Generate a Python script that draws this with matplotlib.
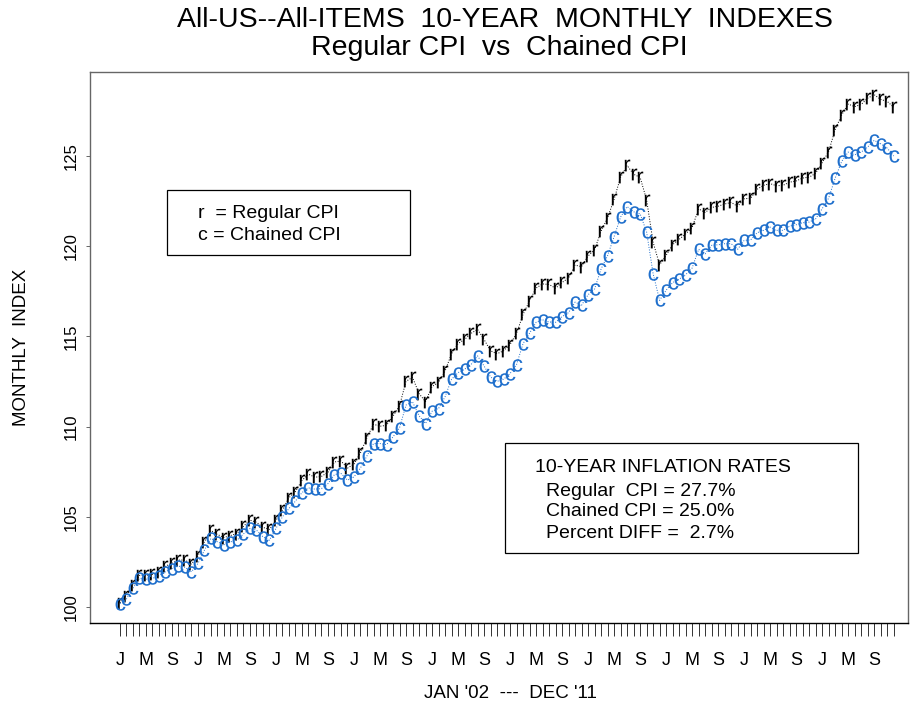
import matplotlib
matplotlib.use("Agg")
import matplotlib.pyplot as plt
from matplotlib.patches import Rectangle
import numpy as np

plt.rcParams['font.family'] = ['Liberation Sans', 'DejaVu Sans']
plt.rcParams['mathtext.fontset'] = 'custom'
plt.rcParams['mathtext.sf'] = 'Liberation Sans'
plt.rcParams['mathtext.rm'] = 'Liberation Sans'

# Monthly index, Jan 2002 .. Dec 2011 (Dec 2001 = 100)
regular = [
    100.23, 100.62, 101.19, 101.75, 101.75, 101.81, 101.92, 102.26, 102.43, 102.60, 102.60, 102.38,
    102.83, 103.62, 104.24, 104.02, 103.85, 103.96, 104.07, 104.47, 104.81, 104.70, 104.41, 104.30,
    104.81, 105.38, 106.06, 106.40, 107.02, 107.36, 107.19, 107.24, 107.47, 108.04, 108.09, 107.70,
    107.92, 108.55, 109.39, 110.13, 110.02, 110.07, 110.58, 111.15, 112.51, 112.73, 111.83, 111.38,
    112.22, 112.45, 113.07, 114.04, 114.60, 114.83, 115.17, 115.39, 114.83, 114.20, 114.04, 114.20,
    114.55, 115.17, 116.22, 116.97, 117.68, 117.91, 117.88, 117.67, 117.99, 118.24, 118.95, 118.87,
    119.46, 119.80, 120.84, 121.57, 122.60, 123.83, 124.48, 123.99, 123.82, 122.57, 120.22, 118.97,
    119.49, 120.09, 120.38, 120.68, 121.03, 122.07, 121.87, 122.15, 122.22, 122.34, 122.43, 122.21,
    122.63, 122.66, 123.16, 123.38, 123.47, 123.35, 123.38, 123.55, 123.62, 123.78, 123.83, 124.04,
    124.63, 125.25, 126.47, 127.28, 127.88, 127.74, 127.86, 128.21, 128.40, 128.14, 128.03, 127.71,
]
chained = [
    100.19, 100.44, 101.03, 101.58, 101.54, 101.58, 101.73, 101.95, 102.13, 102.26, 102.20, 101.95,
    102.41, 103.15, 103.80, 103.61, 103.45, 103.61, 103.70, 104.05, 104.35, 104.26, 103.89, 103.70,
    104.35, 105.00, 105.46, 105.87, 106.34, 106.60, 106.53, 106.56, 106.84, 107.34, 107.40, 107.03,
    107.21, 107.71, 108.38, 109.06, 109.06, 109.00, 109.43, 109.93, 111.19, 111.37, 110.60, 110.17,
    110.85, 111.00, 111.65, 112.62, 112.99, 113.18, 113.44, 113.92, 113.36, 112.75, 112.51, 112.62,
    112.94, 113.44, 114.60, 115.18, 115.78, 115.92, 115.80, 115.78, 116.10, 116.32, 116.90, 116.73,
    117.31, 117.63, 118.74, 119.48, 120.53, 121.62, 122.20, 121.91, 121.80, 120.79, 118.48, 117.00,
    117.56, 117.98, 118.17, 118.42, 118.79, 119.83, 119.58, 120.05, 120.08, 120.14, 120.14, 119.83,
    120.32, 120.35, 120.75, 120.88, 121.06, 120.88, 120.88, 121.12, 121.19, 121.30, 121.34, 121.52,
    122.08, 122.67, 123.78, 124.70, 125.22, 125.07, 125.22, 125.50, 125.87, 125.68, 125.44, 125.00,
]
month_letters = ['J', '', '', '', 'M', '', '', '', 'S', '', '', '']
y_ticks = [100, 105, 110, 115, 120, 125]

months = np.arange(len(regular))
blue = '#1f6fcc'

W, H = 913, 706
fig = plt.figure(figsize=(W / 100, H / 100), dpi=100)
ax = fig.add_axes([90 / W, 1 - 623 / H, 818 / W, 551 / H])

# dotted connectors, then letter markers
ax.plot(months, regular, ls=':', lw=0.7, color='black', zorder=2)
ax.plot(months, chained, ls=':', lw=0.7, color=blue, zorder=2)
ax.plot(months, regular, ls='none', marker=r'$\mathsf{r}$', ms=8.5,
        color='black', mec='black', mew=0, zorder=3)
ax.plot(months, chained, ls='none', marker=r'$\mathsf{c}$', ms=9,
        color=blue, mec=blue, mew=0, zorder=3)

ax.set_xlim(-4.6, 121.2)
ax.set_ylim(99.11, 129.66)

ax.set_xticks(months)
ax.set_xticklabels([month_letters[m % 12] for m in months], fontsize=13)
ax.tick_params(axis='x', direction='out', length=9, width=0.7, color='#333333', pad=12)
ax.set_yticks(y_ticks)
ax.set_yticklabels([str(v) for v in y_ticks], fontsize=12, rotation=90, va='center')
ax.tick_params(axis='y', direction='out', length=3, width=0.7, color='#666666', pad=5)

for side in ['top', 'left', 'right']:
    ax.spines[side].set_color('#666666')
    ax.spines[side].set_linewidth(1.0)
ax.spines['bottom'].set_color('black')
ax.spines['bottom'].set_linewidth(1.0)

# titles and axis labels
fig.text(505 / W, 1 - 20 / H, "All-US--All-ITEMS  10-YEAR  MONTHLY  INDEXES",
         ha='center', va='center', fontsize=20.5)
fig.text(499 / W, 1 - 48 / H, "Regular CPI  vs  Chained CPI",
         ha='center', va='center', fontsize=20.5)
fig.text(510 / W, 1 - 693 / H, "JAN '02  ---  DEC '11", ha='center', va='center', fontsize=13.5)
fig.text(22 / W, 1 - 347 / H, "MONTHLY  INDEX", ha='center', va='center',
         rotation=90, fontsize=13.5)


def box(x0, y0, x1, y1):
    fig.patches.append(Rectangle((x0 / W, 1 - y1 / H), (x1 - x0) / W, (y1 - y0) / H,
                                 transform=fig.transFigure, fill=False,
                                 edgecolor='black', linewidth=0.9, zorder=5))


# legend box
box(167, 190, 410, 255)
fig.text(198 / W, 1 - 213 / H, "r  = Regular CPI", va='center', fontsize=14)
fig.text(198 / W, 1 - 236 / H, "c = Chained CPI", va='center', fontsize=14)

# inflation rates box
reg_rate = regular[-1] - 100
chn_rate = chained[-1] - 100
box(505, 443, 858, 553)
fig.text(535 / W, 1 - 467 / H, "10-YEAR INFLATION RATES", va='center', fontsize=14)
fig.text(546 / W, 1 - 491 / H, f"Regular  CPI = {reg_rate:.1f}%", va='center', fontsize=14)
fig.text(546 / W, 1 - 512 / H, f"Chained CPI = {chn_rate:.1f}%", va='center', fontsize=14)
fig.text(546 / W, 1 - 533 / H, f"Percent DIFF =  {reg_rate - chn_rate:.1f}%", va='center',
         fontsize=14)

fig.savefig('out.png', dpi=100, facecolor='white')
